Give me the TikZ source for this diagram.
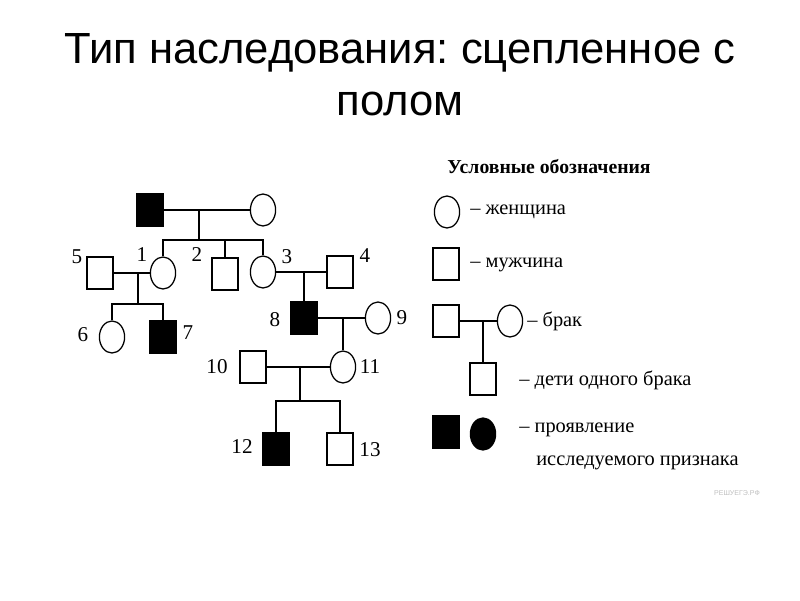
\documentclass[tikz,border=0pt]{standalone}
\usepackage{fontspec}
\setmainfont{Liberation Serif}
\newfontfamily\titlefont{Liberation Sans}
\usetikzlibrary{shapes.geometric}
\frenchspacing

\begin{document}
\begin{tikzpicture}[x=0.025cm, y=-0.025cm, line width=0.9pt,
    every node/.style={font=\fontsize{15}{18}\selectfont},
    male/.style={draw, rectangle, minimum width=0.65cm, minimum height=0.8cm, inner sep=0pt},
    female/.style={draw, ellipse, minimum width=0.63cm, minimum height=0.8cm, inner sep=0pt},
    ill/.style={fill=black},
    keytext/.style={anchor=west, font=\fontsize{14.5}{17}\selectfont}]
  \useasboundingbox (0,0) rectangle (800,600);
  % title
  \node[font=\titlefont\fontsize{31}{37}\selectfont, anchor=base] (title1) at (400,63) {Тип наследования: сцепленное с};
  \node[font=\titlefont\fontsize{31}{37}\selectfont, anchor=base] (title2) at (400,115) {полом};

  % generation I
  \node[male, ill] (p0) at (150,210) {};
  \node[female] (f0) at (263,210) {};
  \coordinate (u0) at (199,210);
  \coordinate (s0) at (199,240);
  \draw (p0) -- (f0);
  \draw (u0) -- (s0);

  % generation II
  \node[female] (c1) at (163,273) {};
  \node[male] (c2) at (225,274) {};
  \node[female] (c3) at (263,272) {};
  \draw (c1.north) |- (s0) -| (c3.north);
  \draw (c2.north) -- (c2.north |- s0);
  \node[male] (c5) at (100,273) {};
  \node[male] (c4) at (340,272) {};
  \coordinate (u1) at (138,273);
  \coordinate (s1) at (138,304);
  \coordinate (u2) at (304,272);
  \draw (c5) -- (c1);
  \draw (c3) -- (c4);

  % generation III
  \node[female] (c6) at (112,337) {};
  \node[male, ill] (c7) at (163,337) {};
  \draw (u1) -- (s1);
  \draw (c6.north) |- (s1) -| (c7.north);
  \node[male, ill] (c8) at (304,318) {};
  \node[female] (c9) at (378,318) {};
  \coordinate (u3) at (343,318);
  \draw (u2) -- (c8.north);
  \draw (c8) -- (c9);

  % generation IV
  \node[male] (c10) at (253,367) {};
  \node[female] (c11) at (343,367) {};
  \coordinate (u4) at (300,367);
  \coordinate (s4) at (300,401);
  \draw (u3) -- (c11.north);
  \draw (c10) -- (c11);
  \draw (u4) -- (s4);

  % generation V
  \node[male, ill] (c12) at (276,449) {};
  \node[male] (c13) at (340,449) {};
  \draw (c12.north) |- (s4) -| (c13.north);

  % numbers
  \node (n5) at (77,257) {5};
  \node (n1) at (142,255) {1};
  \node (n2) at (197,255) {2};
  \node (n3) at (287,257) {3};
  \node (n4) at (365,256) {4};
  \node (n6) at (83,335) {6};
  \node (n7) at (188,333) {7};
  \node (n8) at (275,320) {8};
  \node (n9) at (402,318) {9};
  \node (n10) at (217,367) {10};
  \node (n11) at (370,367) {11};
  \node (n12) at (242,447) {12};
  \node (n13) at (370,450) {13};

  % legend
  \node[font=\bfseries\fontsize{14}{16}\selectfont] (legend) at (549,167) {Условные обозначения};
  \node[female] (kf) at (447,212) {};
  \node[keytext] (kft) at (465,212) {– женщина};
  \node[male] (km) at (446,264) {};
  \node[keytext] (kmt) at (465,265) {– мужчина};
  \node[male] (ka) at (446,321) {};
  \node[female] (kb) at (510,321) {};
  \coordinate (ku) at (483,321);
  \draw (ka) -- (kb);
  \node[keytext] (kbt) at (522,321) {– брак};
  \node[male] (kc) at (483,379) {};
  \draw (ku) -- (kc.north);
  \node[keytext] (kct) at (514,380) {– дети одного брака};
  \node[male, ill] (kx) at (446,432) {};
  \node[female, ill] (ky) at (483,434) {};
  \node[keytext] (kxt) at (514,430) {– проявление};
  \node[keytext] (kyt) at (531,463) {исследуемого признака};
  \node[font=\titlefont\fontsize{5}{6}\selectfont, text=gray!50] (mark) at (737,493) {РЕШУЕГЭ.РФ};
\end{tikzpicture}
\end{document}
